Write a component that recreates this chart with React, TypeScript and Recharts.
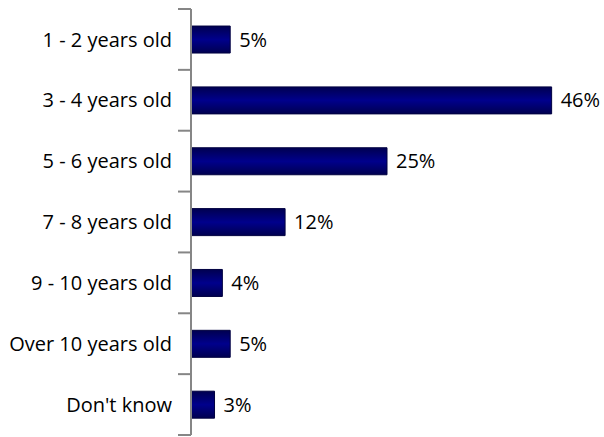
import { BarChart, Bar, XAxis, YAxis, LabelList } from 'recharts'

const categories = ['1 - 2 years old', '3 - 4 years old', '5 - 6 years old', '7 - 8 years old', '9 - 10 years old', 'Over 10 years old', "Don't know"]
const values = [5, 46, 25, 12, 4, 5, 3]

const data = categories.map((name, i) => ({ name, value: values[i] }))

const WIDTH = 604
const HEIGHT = 437
const MARGIN = { top: 9, right: 21, left: 0, bottom: 2 }
const AXIS_W = 191
const BAND = (HEIGHT - MARGIN.top - MARGIN.bottom) / categories.length
const AXIS_COLOR = '#868686'
const FONT_SIZE = 20

// label plus a tick mark on the band boundaries, like Excel's category axis
function CatTick(props: any) {
    const { x, y, payload, index } = props
    const lineX = MARGIN.left + AXIS_W
    return (
        <g>
            <line x1={lineX - 13} x2={lineX} y1={y - BAND / 2} y2={y - BAND / 2} stroke={AXIS_COLOR} strokeWidth={2} />
            {index === categories.length - 1 && (
                <line x1={lineX - 13} x2={lineX} y1={y + BAND / 2} y2={y + BAND / 2} stroke={AXIS_COLOR} strokeWidth={2} />
            )}
            <text x={x} y={y} dy="0.355em" textAnchor="end" fontSize={FONT_SIZE} fill="#000">
                {payload.value}
            </text>
        </g>
    )
}

export default function App() {
    return (
        <div style={{ position: 'absolute', left: 0, top: 0, fontFamily: '"Open Sans", sans-serif' }}>
            <BarChart
                width={WIDTH}
                height={HEIGHT}
                data={data}
                layout="vertical"
                margin={MARGIN}
                barCategoryGap="28%"
            >
                <defs>
                    <linearGradient id="barGrad" x1="0" y1="0" x2="0" y2="1">
                        <stop offset="0%" stopColor="#000050" />
                        <stop offset="50%" stopColor="#00008c" />
                        <stop offset="100%" stopColor="#000050" />
                    </linearGradient>
                </defs>
                <XAxis type="number" domain={[0, 50]} hide />
                <YAxis
                    type="category"
                    dataKey="name"
                    width={AXIS_W}
                    axisLine={{ stroke: AXIS_COLOR, strokeWidth: 2 }}
                    tickLine={false}
                    tickSize={0}
                    tickMargin={19}
                    interval={0}
                    tick={<CatTick />}
                />
                <Bar dataKey="value" fill="url(#barGrad)" stroke="#000040" strokeWidth={1} isAnimationActive={false}>
                    <LabelList dataKey="value" position="right" offset={9} formatter={(v: number) => `${v}%`} style={{ fontSize: FONT_SIZE, fill: '#000' }} />
                </Bar>
            </BarChart>
        </div>
    )
}
